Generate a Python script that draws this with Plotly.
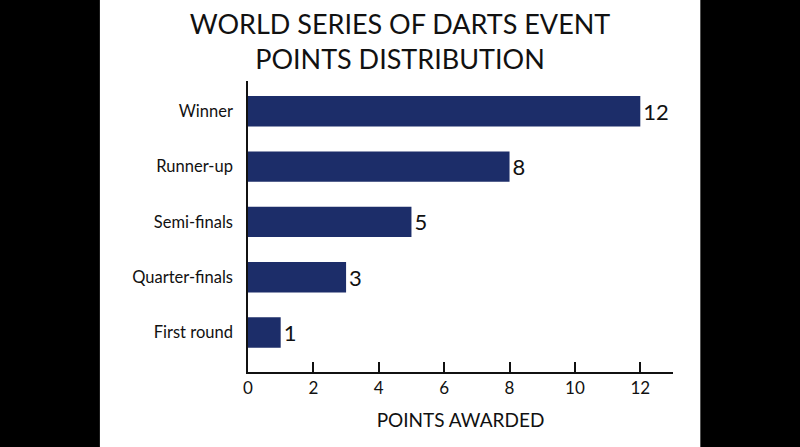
import plotly.graph_objects as go

# data
stages = ['Winner', 'Runner-up', 'Semi-finals', 'Quarter-finals', 'First round']
points = [12, 8, 5, 3, 1]
x_ticks = [0, 2, 4, 6, 8, 10, 12]

bar_color = '#1c2d69'
text_color = '#111111'
font_name = 'Lato'

fig = go.Figure()
fig.add_trace(go.Bar(
    x=points, y=stages, orientation='h',
    marker=dict(color=bar_color, line=dict(width=0)),
    width=0.55,
    text=[str(p) for p in points], textposition='outside',
    textfont=dict(size=22, color=text_color, family=font_name),
    cliponaxis=False,
))

fig.update_layout(
    width=800, height=447,
    paper_bgcolor='white', plot_bgcolor='white',
    margin=dict(l=248, r=127, t=81, b=75),
    font=dict(family=font_name, color=text_color),
    showlegend=False,
    title=dict(
        text='WORLD SERIES OF DARTS EVENT<br>POINTS DISTRIBUTION',
        x=0.5, xref='container', xanchor='center',
        y=0.925, yref='container', yanchor='top',
        font=dict(size=27, color=text_color, family=font_name),
    ),
)

fig.update_xaxes(
    range=[0, 13], tickvals=x_ticks,
    ticks='inside', ticklen=10, tickwidth=1.5, tickcolor=text_color,
    showline=True, linecolor=text_color, linewidth=1.5,
    showgrid=False, zeroline=False,
    tickfont=dict(size=17, color=text_color),
    title=dict(text='POINTS AWARDED', font=dict(size=19, color=text_color), standoff=17),
)
fig.update_yaxes(
    categoryorder='array', categoryarray=stages,
    range=[4.714, -0.548],
    showline=True, linecolor=text_color, linewidth=1.5,
    showgrid=False, zeroline=False, ticks='',
    ticklabelstandoff=10,
    tickfont=dict(size=16.5, color=text_color),
)

# black side bands of the original frame
for x0, x1 in [(-0.6, -0.3485), (1.0643, 1.4)]:
    fig.add_shape(type='rect', xref='paper', yref='paper',
                  x0=x0, x1=x1, y0=-0.4, y1=1.4,
                  fillcolor='black', line=dict(width=0), layer='below')

# drop the default page margin so the figure sits at the window's corner
fig.write_html('out.html', config={'displayModeBar': False},
               post_script="document.body.style.margin='0';")
